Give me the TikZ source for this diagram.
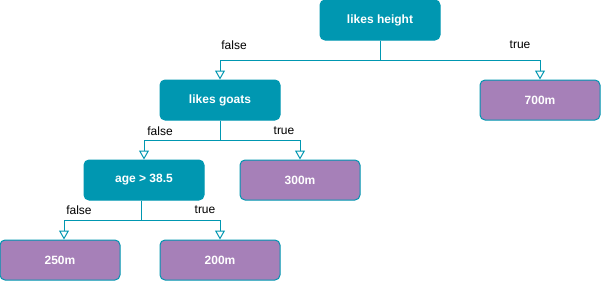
\documentclass[tikz,border=0pt]{standalone}
\usepackage{fontspec}
\setmainfont{Liberation Sans}
\usetikzlibrary{arrows.meta}
\definecolor{tealc}{HTML}{0097B1}
\definecolor{purplec}{HTML}{A680B8}
\tikzset{
  decision/.style={draw=tealc, fill=tealc, rounded corners=5pt, line width=1pt,
    minimum width=120pt, minimum height=40pt, inner sep=0pt,
    text=white, font=\fontsize{12}{14}\selectfont\bfseries},
  leafbox/.style={decision, fill=purplec},
  branch/.style={draw=tealc, line width=1pt,
    -{Triangle[length=9pt, width=10pt, fill=white, line width=1pt]}},
  edgelabel/.style={font=\fontsize{12}{14}\selectfont, text=black, inner sep=0pt}
}
\begin{document}
\begin{tikzpicture}[x=1pt, y=-1pt]
  \useasboundingbox (0,0) rectangle (601,281);

  % nodes of the tree
  \node[decision] (height) at (380,20) {likes height};
  \node[decision] (goats) at (220,100) {likes goats};
  \node[leafbox] (m700) at (540,100) {700m};
  \node[decision] (age) at (144,180) {age > 38.5};
  \node[leafbox] (m300) at (300,180) {300m};
  \node[leafbox] (m250) at (60,260) {250m};
  \node[leafbox] (m200) at (220,260) {200m};

  % branches
  \draw[branch] (height.south) -- ++(0,20) -| (goats.north);
  \draw[branch] (height.south) -- ++(0,20) -| (m700.north);
  \draw[branch] (goats.south) -- ++(0,20) -| (age.north);
  \draw[branch] (goats.south) -- ++(0,20) -| (m300.north);
  \draw[branch] ([xshift=-3pt]age.south) -- ++(0,20) -| ([xshift=4pt]m250.north);
  \draw[branch] ([xshift=-3pt]age.south) -- ++(0,20) -| (m200.north);

  % branch labels
  \node[edgelabel] (l1f) at (234,45) {false};
  \node[edgelabel] (l1t) at (520,45) {true};
  \node[edgelabel] (l2f) at (160,131) {false};
  \node[edgelabel] (l2t) at (284,131) {true};
  \node[edgelabel] (l3f) at (79,210) {false};
  \node[edgelabel] (l3t) at (205,210) {true};
\end{tikzpicture}
\end{document}
